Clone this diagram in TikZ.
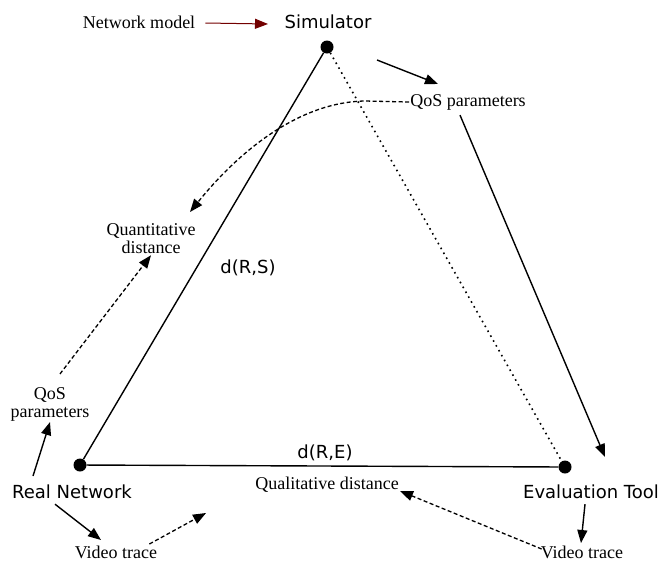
\documentclass[tikz,border=0pt]{standalone}
\usepackage{fontspec}
\setmainfont{Liberation Serif}
\newfontfamily\labelfont{DejaVu Sans}
\usepackage{tikz}
\usetikzlibrary{arrows.meta}

\begin{document}
\begin{tikzpicture}[x=1pt,y=-1pt,
  serif/.style={font=\fontsize{18}{18}\selectfont, align=center, inner sep=1pt},
  sans/.style={font=\labelfont\fontsize{18}{20}\selectfont, inner sep=1pt},
  vertex/.style={circle, fill=black, inner sep=0pt, minimum size=13pt},
  arr/.style={-{Triangle[length=13pt,width=10pt]}, line width=1.4pt},
  darr/.style={-{Triangle[length=13pt,width=10pt]}, line width=1.3pt, dash pattern=on 4pt off 2.5pt}]
\useasboundingbox (0,0) rectangle (660,566);

% corners of the triangle
\node[vertex] (sim) at (327,47) {};
\node[vertex] (real) at (80,465) {};
\node[vertex] (eval) at (565,467) {};

\node[sans] (simlab) at (328,22) {Simulator};
\node[sans] (reallab) at (72,492) {Real Network};
\node[sans] (evallab) at (591,492) {Evaluation Tool};

\draw[line width=1.4pt] (sim) -- (real);
\draw[line width=1.4pt] (real) -- (eval);
\draw[line width=1.6pt, dash pattern=on 1.6pt off 4pt] (sim) -- (eval);

\node[sans] (drs) at (248,268) {d(R,S)};
\node[sans] (dre) at (325,453) {d(R,E)};

% texts
\node[serif] (netmodel) at (139,22) {Network model};
\node[serif] (qostop) at (468,102) {QoS parameters};
\node[serif] (quant) at (151,239) {Quantitative\\distance};
\node[serif] (qosleft) at (50,404) {QoS\\parameters};
\node[serif] (qual) at (327,485) {Qualitative distance};
\node[serif] (vtleft) at (116,552) {Video trace};
\node[serif] (vtright) at (582,552) {Video trace};

% free ends of the arrows
\coordinate (nmend) at (268,24);
\coordinate (simout) at (377,60);
\coordinate (qosin) at (438,84);
\coordinate (evalin) at (605,457);
\coordinate (quantin) at (190,212);
\coordinate (realout) at (33,476);
\coordinate (vtin) at (101,540);
\coordinate (qualleft) at (206,513);
\coordinate (qualright) at (400,491);
\coordinate (vtrin) at (581,543);

% arrows
\draw[arr, red!45!black, line width=1pt] (netmodel.east) ++(9,1) -- (nmend);
\draw[arr] (simout) -- (qosin);
\draw[arr] (qostop.south) ++(-8,4) -- (evalin);
\draw[darr] (qostop.west) -- (365,101) .. controls (300,102) and (240,150) .. (quantin);
\draw[darr] (qosleft.north) ++(10,-12) -- (quant.south);
\draw[arr] (realout) -- (qosleft.south);
\draw[arr] (reallab.south) ++(-17,4) -- (vtin);
\draw[darr] (vtleft.east) ++(-9,-8) -- (qualleft);
\draw[darr] (vtright.west) ++(2,-3) -- (qualright);
\draw[arr] (evallab.south) ++(-6,4) -- (vtrin);
\end{tikzpicture}
\end{document}
